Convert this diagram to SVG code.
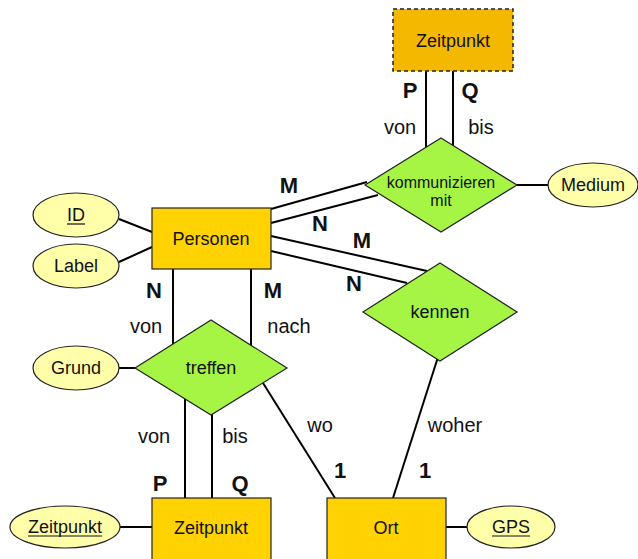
<svg xmlns="http://www.w3.org/2000/svg" width="638" height="559" viewBox="0 0 638 559">
<style>
text{font-family:"Liberation Sans",Arial,sans-serif;fill:#111;}
.t{font-size:18px;text-anchor:middle;dominant-baseline:central;}
.s{font-size:16px;text-anchor:middle;}
.l{font-size:20px;text-anchor:middle;}
.b{font-size:22px;font-weight:bold;text-anchor:middle;}
.ent{fill:#ffd200;stroke:#222;stroke-width:1.2;}
.rel{fill:#a6f545;stroke:#222;stroke-width:1.2;}
.att{fill:#ffffaa;stroke:#222;stroke-width:1.2;}
.c line{stroke:#000;stroke-width:2;}
.u{stroke:#111;stroke-width:1.2;}
</style>
<g class="c" id="connectors">
<line x1="426" y1="71" x2="426" y2="160"/>
<line x1="453" y1="71" x2="453" y2="160"/>
<line x1="517" y1="185" x2="549" y2="185"/>
<line x1="271" y1="209" x2="367" y2="182"/>
<line x1="271" y1="223" x2="378" y2="195"/>
<line x1="271" y1="236" x2="427" y2="271"/>
<line x1="271" y1="251" x2="407" y2="283"/>
<line x1="119" y1="219" x2="152" y2="232"/>
<line x1="119" y1="262" x2="152" y2="247"/>
<line x1="173" y1="269" x2="173" y2="360"/>
<line x1="251" y1="269" x2="251" y2="360"/>
<line x1="119" y1="368" x2="136" y2="368"/>
<line x1="185" y1="380" x2="185" y2="498"/>
<line x1="212" y1="380" x2="212" y2="498"/>
<line x1="263" y1="383" x2="335" y2="498"/>
<line x1="438" y1="357" x2="393" y2="498"/>
<line x1="120" y1="527" x2="152" y2="527"/>
<line x1="446" y1="527" x2="467" y2="527"/>
</g>
<g id="zeitpunkt_top">
<rect x="393" y="9" width="120" height="62" fill="#f5b800" stroke="#222" stroke-width="1.5" stroke-dasharray="4,3"/>
<text class="t" x="453" y="41">Zeitpunkt</text>
</g>
<g id="kommunizieren">
<polygon class="rel" points="441,138 517,185 441,232 365,185"/>
<text class="s" x="441" y="188">kommunizieren</text>
<text class="s" x="441" y="206">mit</text>
</g>
<g id="medium">
<ellipse class="att" cx="593" cy="185" rx="45" ry="22"/>
<text class="t" x="593" y="185">Medium</text>
</g>
<g id="personen">
<rect class="ent" x="152" y="208" width="119" height="61"/>
<text class="t" x="211" y="239">Personen</text>
</g>
<g id="id">
<ellipse class="att" cx="76" cy="215" rx="43" ry="22"/>
<text class="t" x="76" y="215">ID</text>
<line class="u" x1="67" y1="224" x2="85" y2="224"/>
</g>
<g id="label">
<ellipse class="att" cx="76" cy="266" rx="43" ry="22"/>
<text class="t" x="76" y="266">Label</text>
</g>
<g id="kennen">
<polygon class="rel" points="440,263 517,312 440,361 363,312"/>
<text class="t" x="440" y="312">kennen</text>
</g>
<g id="treffen">
<polygon class="rel" points="211,320 287,368 211,415 135,368"/>
<text class="t" x="211" y="368">treffen</text>
</g>
<g id="grund">
<ellipse class="att" cx="76" cy="368" rx="43" ry="22"/>
<text class="t" x="76" y="368">Grund</text>
</g>
<g id="zeitpunkt_bottom">
<rect class="ent" x="152" y="498" width="119" height="62"/>
<text class="t" x="211" y="528">Zeitpunkt</text>
</g>
<g id="zeitpunkt_attr">
<ellipse class="att" cx="65" cy="527" rx="55" ry="21"/>
<text class="t" x="65" y="527">Zeitpunkt</text>
<line class="u" x1="28" y1="536" x2="102" y2="536"/>
</g>
<g id="ort">
<rect class="ent" x="327" y="498" width="119" height="62"/>
<text class="t" x="386" y="528">Ort</text>
</g>
<g id="gps">
<ellipse class="att" cx="511" cy="527" rx="44" ry="21"/>
<text class="t" x="511" y="527">GPS</text>
<line class="u" x1="492" y1="536" x2="530" y2="536"/>
</g>
<g id="labels">
<text class="b" x="410" y="98">P</text>
<text class="b" x="470" y="98">Q</text>
<text class="l" x="400" y="134">von</text>
<text class="l" x="481" y="134">bis</text>
<text class="b" x="289" y="193">M</text>
<text class="b" x="320" y="231">N</text>
<text class="b" x="362" y="248">M</text>
<text class="b" x="354" y="291">N</text>
<text class="b" x="154" y="298">N</text>
<text class="b" x="273" y="298">M</text>
<text class="l" x="146" y="333">von</text>
<text class="l" x="289" y="333">nach</text>
<text class="l" x="154" y="443">von</text>
<text class="l" x="235" y="443">bis</text>
<text class="l" x="320" y="432">wo</text>
<text class="l" x="455" y="432">woher</text>
<text class="b" x="160" y="491">P</text>
<text class="b" x="240" y="491">Q</text>
<text class="b" x="340" y="478">1</text>
<text class="b" x="425" y="478">1</text>
</g>
</svg>
